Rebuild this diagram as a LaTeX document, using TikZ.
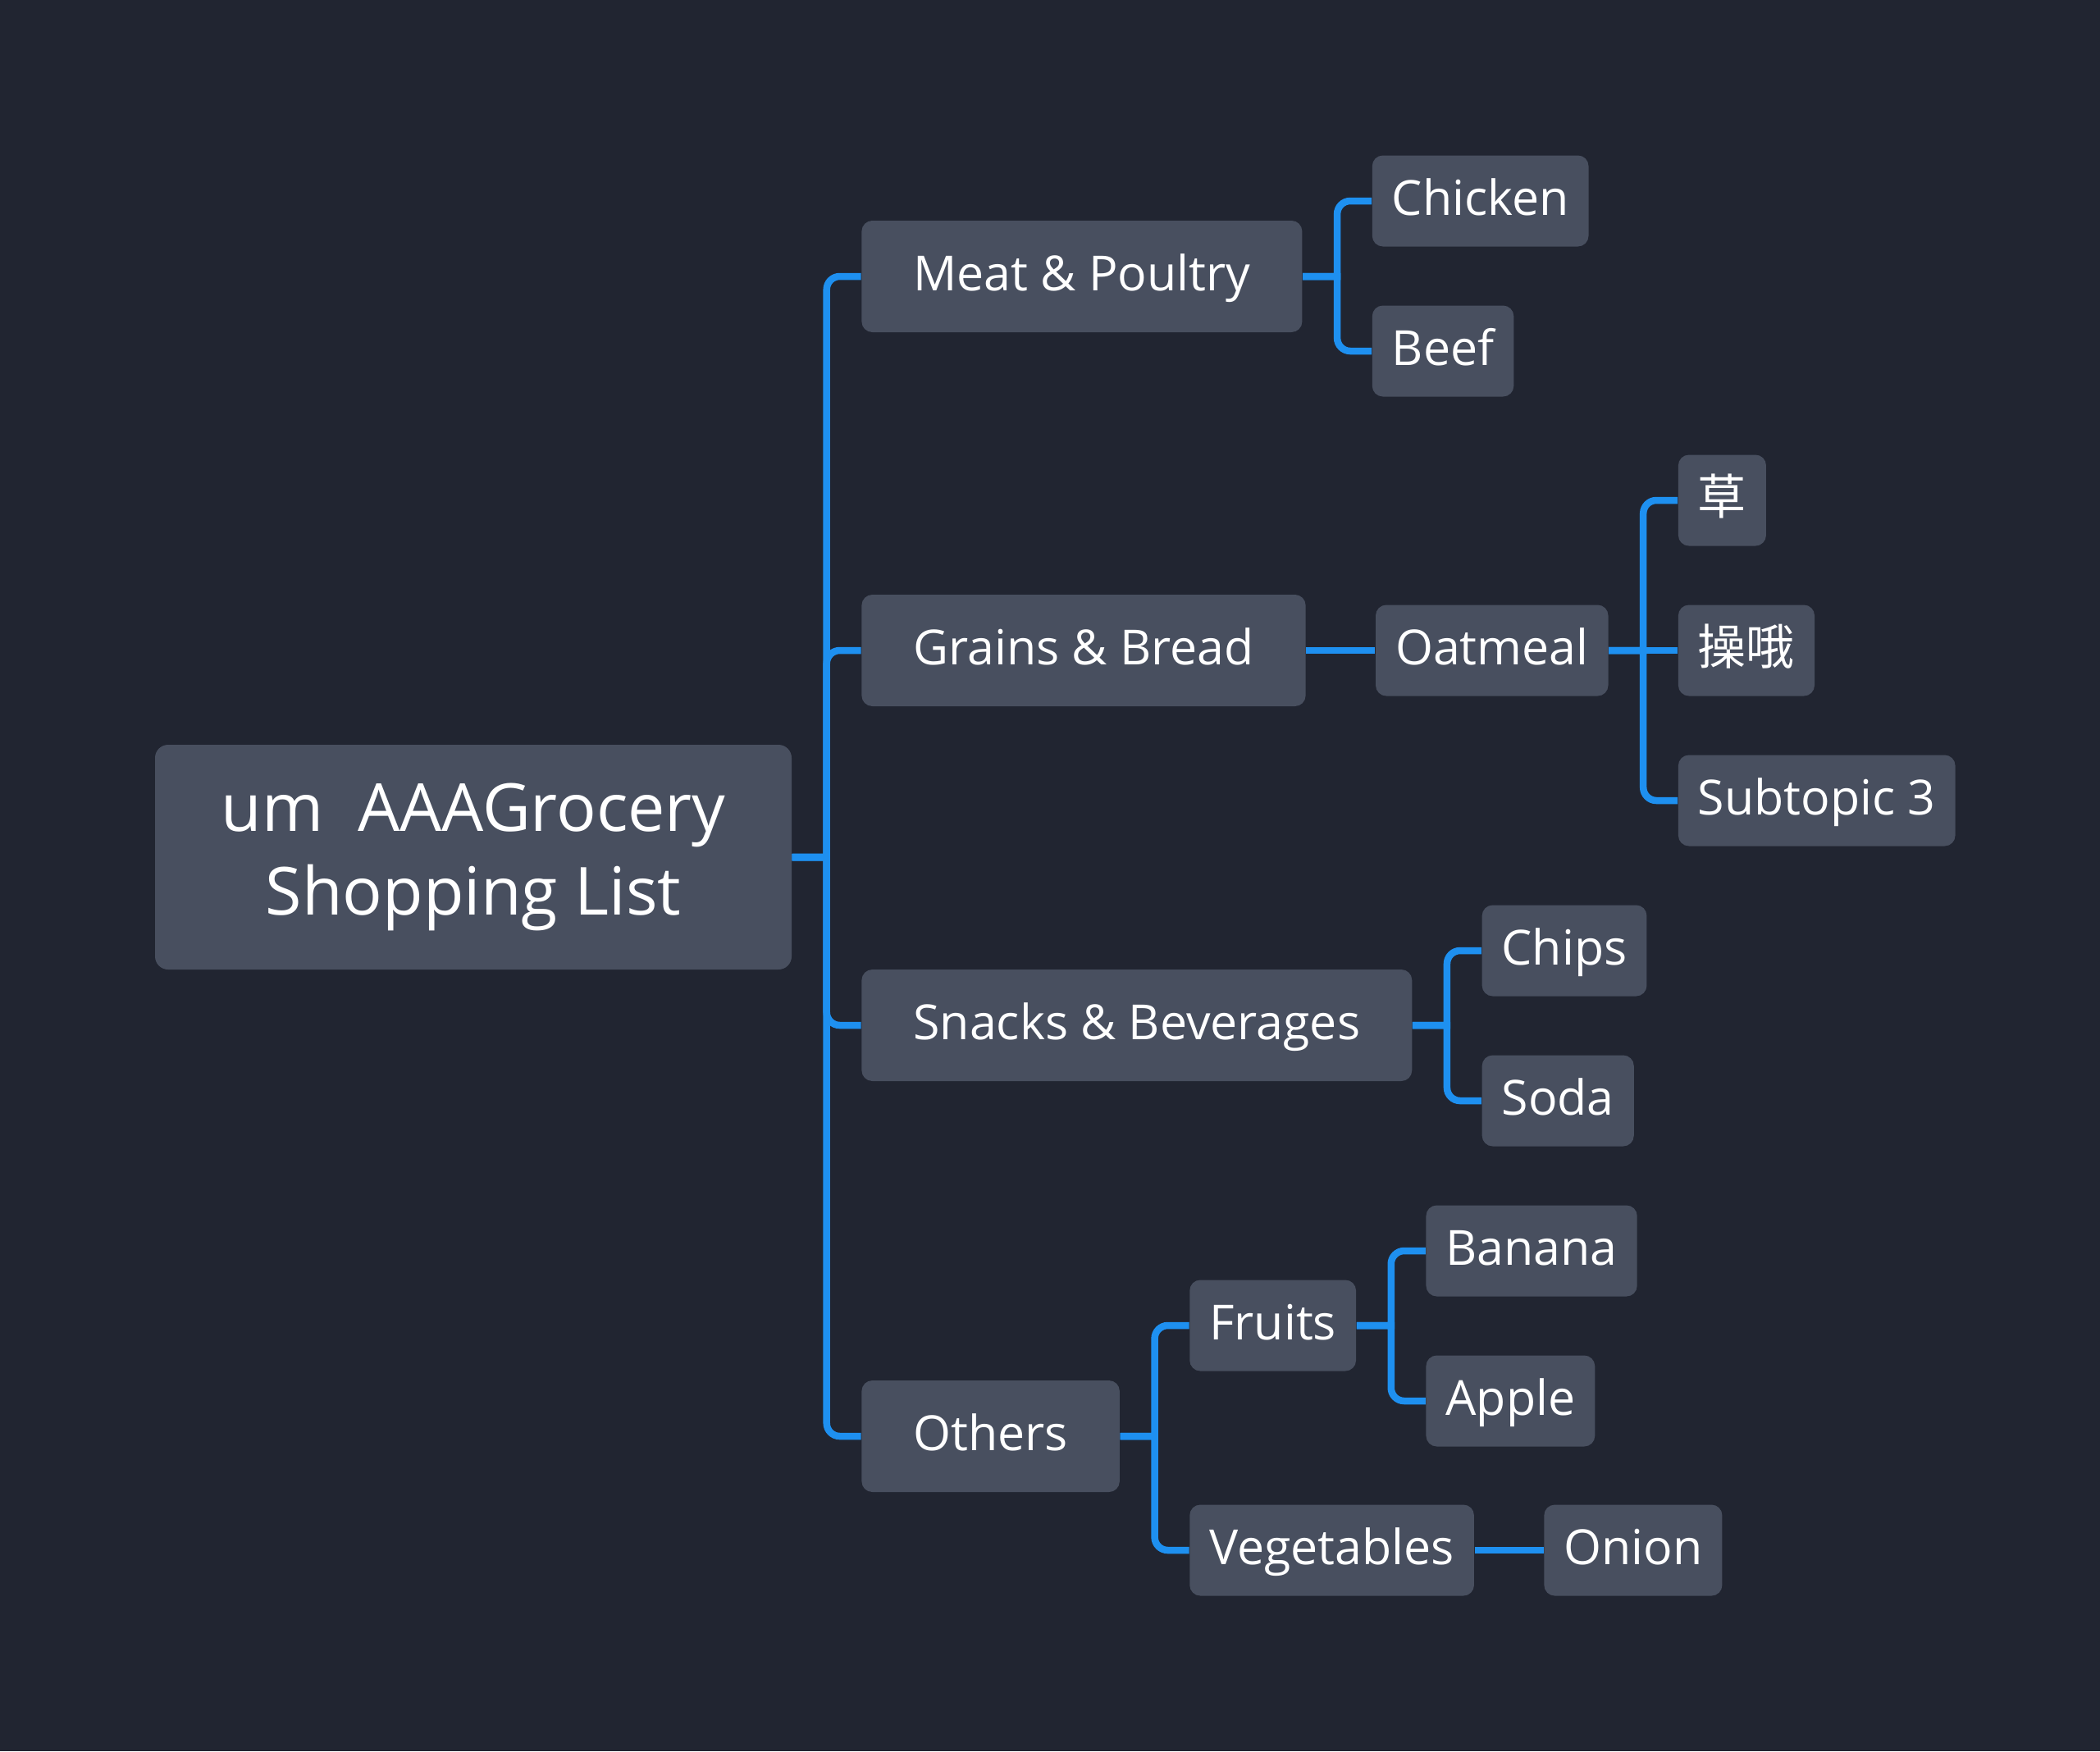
\documentclass[tikz,border=0pt]{standalone}
\usepackage{fontspec}
\setmainfont{Open Sans}
\newfontfamily\cjk{Noto Sans CJK SC}
\usepackage{tikz}
\usetikzlibrary{positioning}

\definecolor{bgdark}{RGB}{33,37,49}
\definecolor{boxgray}{RGB}{72,79,95}
\definecolor{linkblue}{RGB}{30,144,240}

\begin{document}
\begin{tikzpicture}[
  node distance=8.4mm,
  root/.style={fill=boxgray, rounded corners=0.16cm, text=white, align=center, minimum width=7.76cm, minimum height=2.74cm, font=\fontsize{23}{29}\selectfont},
  topic/.style={fill=boxgray, rounded corners=0.13cm, text=white, inner xsep=0.63cm, minimum height=1.36cm, text height=12.5pt, text depth=2.3pt, font=\fontsize{16.8}{20}\selectfont},
  leaf/.style={topic, inner xsep=0.24cm, minimum height=1.11cm},
  link/.style={draw=linkblue, line width=0.085cm},
  branch/.style={to path={-- ([xshift=0.42cm]\tikztostart) [rounded corners=0.16cm] -- ([xshift=0.42cm]\tikztostart |- \tikztotarget) -- (\tikztotarget)}}]
\useasboundingbox[fill=bgdark] (0,0) rectangle (25.6,-21.35);

\node[root] (root) at (5.77,-10.45) {um\ \ AAAGrocery\\Shopping List};
\node[topic, right=of root.east, yshift=7.08cm] (meat) {Meat \& Poultry};
\node[topic, right=of root.east, yshift=2.52cm] (grains) {Grains \& Bread};
\node[topic, right=of root.east, yshift=-2.05cm] (snacks) {Snacks \& Beverages};
\node[topic, right=of root.east, yshift=-7.06cm] (others) {Others};

\node[leaf, right=of meat.east, yshift=0.92cm] (chicken) {Chicken};
\node[leaf, right=of meat.east, yshift=-0.91cm] (beef) {Beef};
\node[leaf, right=of grains] (oatmeal) {Oatmeal};
\node[leaf, right=of oatmeal.east, yshift=1.83cm] (cao) {\cjk 草};
\node[leaf, right=of oatmeal] (caoe) {\cjk 操哦};
\node[leaf, right=of oatmeal.east, yshift=-1.83cm] (sub3) {Subtopic 3};
\node[leaf, right=of snacks.east, yshift=0.91cm] (chips) {Chips};
\node[leaf, right=of snacks.east, yshift=-0.92cm] (soda) {Soda};
\node[leaf, right=of others.east, yshift=1.35cm] (fruits) {Fruits};
\node[leaf, right=of others.east, yshift=-1.39cm] (veg) {Vegetables};
\node[leaf, right=of fruits.east, yshift=0.91cm] (banana) {Banana};
\node[leaf, right=of fruits.east, yshift=-0.92cm] (apple) {Apple};
\node[leaf, right=of veg] (onion) {Onion};

\draw[link] (root.east) to[branch] (meat.west);
\draw[link] (root.east) to[branch] (grains.west);
\draw[link] (root.east) to[branch] (snacks.west);
\draw[link] (root.east) to[branch] (others.west);
\draw[link] (meat.east) to[branch] (chicken.west);
\draw[link] (meat.east) to[branch] (beef.west);
\draw[link] (grains) -- (oatmeal);
\draw[link] (oatmeal.east) to[branch] (cao.west);
\draw[link] (oatmeal) -- (caoe);
\draw[link] (oatmeal.east) to[branch] (sub3.west);
\draw[link] (snacks.east) to[branch] (chips.west);
\draw[link] (snacks.east) to[branch] (soda.west);
\draw[link] (others.east) to[branch] (fruits.west);
\draw[link] (others.east) to[branch] (veg.west);
\draw[link] (fruits.east) to[branch] (banana.west);
\draw[link] (fruits.east) to[branch] (apple.west);
\draw[link] (veg) -- (onion);
\end{tikzpicture}
\end{document}
